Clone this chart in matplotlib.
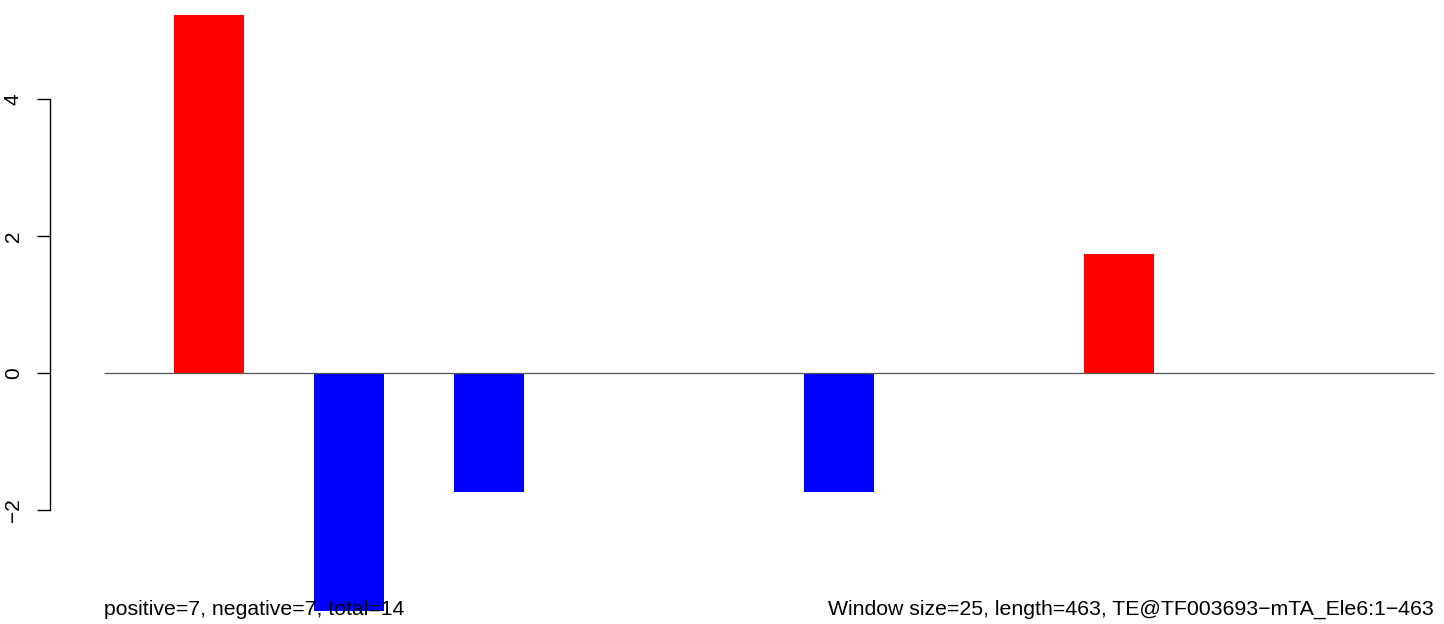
import numpy as np
import matplotlib
matplotlib.use("Agg")
import matplotlib.pyplot as plt

plt.rcParams['font.family'] = ['Liberation Sans', 'DejaVu Sans']

# window scores (19 windows of size 25 over length 463)
windows = np.arange(19)
scores = [0, 5.22, 0, -3.48, 0, -1.74, 0, 0, 0, 0, -1.74, 0, 0, 0, 1.74, 0, 0, 0, 0]
yticks = [-2, 0, 2, 4]
left_note = "positive=7, negative=7, total=14"
right_note = "Window size=25, length=463, TE@TF003693\u2212mTA_Ele6:1\u2212463"

W, H = 1444, 624
fig = plt.figure(figsize=(W / 100, H / 100), dpi=100)
ax = fig.add_axes([50 / W, 0, 1 - 50 / W, 1])

# pixel mapping: window unit = 70 px, 0 at x=103.5; y unit = 68.5 px, 0 at y=373
x0 = 103.5
ax.set_xlim((50 - x0) / 70, (W - x0) / 70)
ax.set_ylim(-(H - 373) / 68.5, 373 / 68.5)

colors = ['red' if s > 0 else 'blue' for s in scores]
ax.bar(windows, scores, width=1.0, align='edge', color=colors, linewidth=0)
ax.hlines(0, 0, len(windows), color='#555555', linewidth=0.9)

for sp in ['top', 'right', 'bottom']:
    ax.spines[sp].set_visible(False)
ax.spines['left'].set_bounds(yticks[0], yticks[-1])
ax.spines['left'].set_linewidth(1.0)
ax.set_xticks([])
ax.set_yticks(yticks)
ax.set_yticklabels([str(t).replace('-', '\u2212') for t in yticks],
                   rotation=90, va='center', fontsize=15)
ax.tick_params(axis='y', length=9.5, width=1.0, pad=10)

ax.text(0, -3.53, left_note, fontsize=15.3, ha='left', va='baseline')
ax.text(len(windows), -3.53, right_note, fontsize=15.3, ha='right', va='baseline')

fig.savefig('out.png', dpi=100)
